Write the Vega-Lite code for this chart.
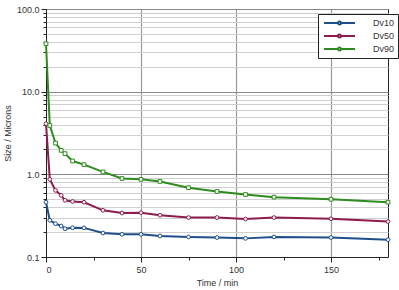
{
  "$schema": "https://vega.github.io/schema/vega-lite/v6.json",
  "width": 342,
  "height": 248,
  "autosize": "none",
  "padding": {"left": 46, "top": 9, "right": 11, "bottom": 33},
  "background": "white",
  "config": {
    "view": {"stroke": "#222", "strokeWidth": 1},
    "font": "Liberation Sans",
    "axis": {"labelFont": "Liberation Sans", "titleFont": "Liberation Sans", "labelFontSize": 9, "titleFontSize": 9, "labelColor": "#333", "titleColor": "#333", "titleFontWeight": "normal", "domainColor": "#222", "tickColor": "#222"}
  },
  "data": {
    "values": [
      {"t": 0, "series": "Dv10", "v": 0.46},
      {"t": 2, "series": "Dv10", "v": 0.278},
      {"t": 5, "series": "Dv10", "v": 0.253},
      {"t": 8, "series": "Dv10", "v": 0.237},
      {"t": 10, "series": "Dv10", "v": 0.22},
      {"t": 14, "series": "Dv10", "v": 0.226},
      {"t": 20, "series": "Dv10", "v": 0.225},
      {"t": 30, "series": "Dv10", "v": 0.195},
      {"t": 40, "series": "Dv10", "v": 0.188},
      {"t": 50, "series": "Dv10", "v": 0.188},
      {"t": 60, "series": "Dv10", "v": 0.18},
      {"t": 75, "series": "Dv10", "v": 0.175},
      {"t": 90, "series": "Dv10", "v": 0.172},
      {"t": 105, "series": "Dv10", "v": 0.168},
      {"t": 120, "series": "Dv10", "v": 0.175},
      {"t": 150, "series": "Dv10", "v": 0.172},
      {"t": 180, "series": "Dv10", "v": 0.162},
      {"t": 0, "series": "Dv50", "v": 4.1},
      {"t": 2, "series": "Dv50", "v": 0.87},
      {"t": 5, "series": "Dv50", "v": 0.64},
      {"t": 8, "series": "Dv50", "v": 0.557},
      {"t": 10, "series": "Dv50", "v": 0.485},
      {"t": 14, "series": "Dv50", "v": 0.47},
      {"t": 20, "series": "Dv50", "v": 0.46},
      {"t": 30, "series": "Dv50", "v": 0.367},
      {"t": 40, "series": "Dv50", "v": 0.34},
      {"t": 50, "series": "Dv50", "v": 0.344},
      {"t": 60, "series": "Dv50", "v": 0.32},
      {"t": 75, "series": "Dv50", "v": 0.30},
      {"t": 90, "series": "Dv50", "v": 0.30},
      {"t": 105, "series": "Dv50", "v": 0.288},
      {"t": 120, "series": "Dv50", "v": 0.30},
      {"t": 150, "series": "Dv50", "v": 0.29},
      {"t": 180, "series": "Dv50", "v": 0.268},
      {"t": 0, "series": "Dv90", "v": 38},
      {"t": 2, "series": "Dv90", "v": 3.9},
      {"t": 5, "series": "Dv90", "v": 2.39},
      {"t": 8, "series": "Dv90", "v": 1.95},
      {"t": 10, "series": "Dv90", "v": 1.78},
      {"t": 14, "series": "Dv90", "v": 1.45},
      {"t": 20, "series": "Dv90", "v": 1.31},
      {"t": 30, "series": "Dv90", "v": 1.07},
      {"t": 40, "series": "Dv90", "v": 0.89},
      {"t": 50, "series": "Dv90", "v": 0.87},
      {"t": 60, "series": "Dv90", "v": 0.82},
      {"t": 75, "series": "Dv90", "v": 0.69},
      {"t": 90, "series": "Dv90", "v": 0.62},
      {"t": 105, "series": "Dv90", "v": 0.57},
      {"t": 120, "series": "Dv90", "v": 0.53},
      {"t": 150, "series": "Dv90", "v": 0.50},
      {"t": 180, "series": "Dv90", "v": 0.46}
    ]
  },
  "encoding": {
    "x": {
      "field": "t", "type": "quantitative",
      "scale": {"domain": [0, 180], "nice": false, "zero": false},
      "axis": {
        "title": "Time / min",
        "values": [0, 25, 50, 75, 100, 125, 150, 175],
        "labelExpr": "datum.value % 50 == 0 ? datum.label : ''",
        "grid": true,
        "gridColor": {"condition": {"test": "datum.value % 50 == 0 && datum.value > 0", "value": "#999"}, "value": "transparent"},
        "gridWidth": 1.2,
        "tickSize": {"condition": {"test": "datum.value % 50 == 0", "value": 5}, "value": 3},
        "labelPadding": 3,
        "titlePadding": 4
      }
    },
    "y": {
      "field": "v", "type": "quantitative",
      "scale": {"type": "log", "domain": [0.1, 100], "nice": false},
      "axis": {
        "title": "Size / Microns",
        "values": [0.1,0.2,0.3,0.4,0.5,0.6,0.7,0.8,0.9,1,2,3,4,5,6,7,8,9,10,20,30,40,50,60,70,80,90,100],
        "format": ".1f",
        "labelExpr": "abs(log(datum.value)/LN10 - round(log(datum.value)/LN10)) < 0.001 ? datum.label : ''",
        "grid": true,
        "gridColor": {"condition": {"test": "abs(log(datum.value)/LN10 - round(log(datum.value)/LN10)) < 0.001", "value": "#888"}, "value": "#d0d0d0"},
        "gridWidth": {"condition": {"test": "abs(log(datum.value)/LN10 - round(log(datum.value)/LN10)) < 0.001", "value": 1.2}, "value": 1},
        "tickSize": {"condition": {"test": "abs(log(datum.value)/LN10 - round(log(datum.value)/LN10)) < 0.001", "value": 5}, "value": 3},
        "labelPadding": 2,
        "titlePadding": 4
      }
    },
    "color": {
      "field": "series", "type": "nominal",
      "scale": {"domain": ["Dv10", "Dv50", "Dv90"], "range": ["#1f4e8c", "#8e1b4e", "#2e8b1e"]},
      "legend": {
        "title": null,
        "orient": "none",
        "legendX": 272,
        "legendY": 5,
        "direction": "vertical",
        "strokeColor": "#222",
        "fillColor": "white",
        "padding": 3,
        "labelFontSize": 9,
        "labelColor": "#333",
        "labelFont": "Liberation Sans",
        "symbolType": "M-0.6,0H2.2M2.8,0H5.6M2.2,0a0.3,0.3 0 1,0 0.6,0a0.3,0.3 0 1,0 -0.6,0",
        "symbolSize": 100,
        "symbolStrokeWidth": 2,
        "symbolFillColor": "white",
        "rowPadding": 1,
        "labelOffset": 40,
        "labelLimit": 60
      }
    }
  },
  "layer": [
    {"mark": {"type": "line", "strokeWidth": 2}},
    {
      "transform": [{"filter": "datum.series != 'Dv90'"}],
      "mark": {"type": "point", "shape": "circle", "filled": false, "fill": "white", "size": 14, "strokeWidth": 1, "opacity": 1}
    },
    {
      "transform": [{"filter": "datum.series == 'Dv90'"}],
      "mark": {"type": "point", "shape": "square", "filled": false, "fill": "white", "size": 14, "strokeWidth": 1, "opacity": 1}
    }
  ]
}
